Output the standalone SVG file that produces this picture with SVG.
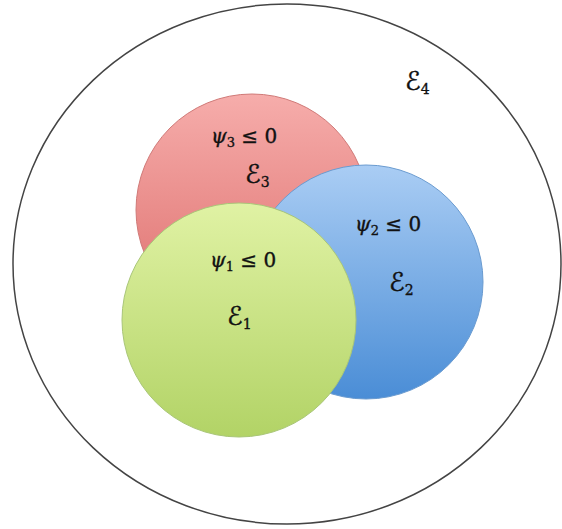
<svg xmlns="http://www.w3.org/2000/svg" width="562" height="529" viewBox="0 0 562 529">
<defs>
<linearGradient id="gRed" x1="0" y1="0" x2="0" y2="1">
<stop offset="0" stop-color="#f6adab"/><stop offset="1" stop-color="#dd6d6b"/>
</linearGradient>
<linearGradient id="gBlue" x1="0" y1="0" x2="0" y2="1">
<stop offset="0" stop-color="#aacdf4"/><stop offset="1" stop-color="#4a8dd6"/>
</linearGradient>
<linearGradient id="gGreen" x1="0" y1="0" x2="0" y2="1">
<stop offset="0" stop-color="#e0f2a4"/><stop offset="1" stop-color="#b2d366"/>
</linearGradient>
<style>
.lbl{font-family:"DejaVu Serif","Liberation Serif",serif;font-size:20px;fill:#111;stroke:#111;stroke-width:0.35}
.sub{font-size:13px}
.scr{font-family:"DejaVu Sans","Noto Sans",sans-serif;font-size:26px;font-style:italic}
.esub{font-family:"DejaVu Serif","Liberation Serif",serif;font-size:14px;font-style:normal}
</style>
</defs>
<g id="outer">
<ellipse cx="287" cy="264" rx="274" ry="260" fill="#fff" stroke="#444" stroke-width="1.5"/>
<text class="lbl" x="405" y="90"><tspan class="scr">ℰ</tspan><tspan class="esub" dy="4">4</tspan></text>
</g>
<g id="red">
<circle cx="252" cy="210" r="116" fill="url(#gRed)" stroke="#d07a78" stroke-width="1"/>
<text class="lbl" x="211" y="143"><tspan font-style="italic">ψ</tspan><tspan class="sub" dy="4">3</tspan><tspan dy="-4"> ≤ 0</tspan></text>
<text class="lbl" x="245" y="183"><tspan class="scr">ℰ</tspan><tspan class="esub" dy="4">3</tspan></text>
</g>
<g id="blue">
<circle cx="366" cy="282" r="117" fill="url(#gBlue)" stroke="#6a9bd0" stroke-width="1"/>
<text class="lbl" x="355" y="231"><tspan font-style="italic">ψ</tspan><tspan class="sub" dy="4">2</tspan><tspan dy="-4"> ≤ 0</tspan></text>
<text class="lbl" x="389" y="291"><tspan class="scr">ℰ</tspan><tspan class="esub" dy="4">2</tspan></text>
</g>
<g id="green">
<circle cx="239" cy="320" r="117" fill="url(#gGreen)" stroke="#a9c678" stroke-width="1"/>
<text class="lbl" x="210" y="267"><tspan font-style="italic">ψ</tspan><tspan class="sub" dy="4">1</tspan><tspan dy="-4"> ≤ 0</tspan></text>
<text class="lbl" x="227" y="325"><tspan class="scr">ℰ</tspan><tspan class="esub" dy="4">1</tspan></text>
</g>
<g id="connectors"/>
</svg>
